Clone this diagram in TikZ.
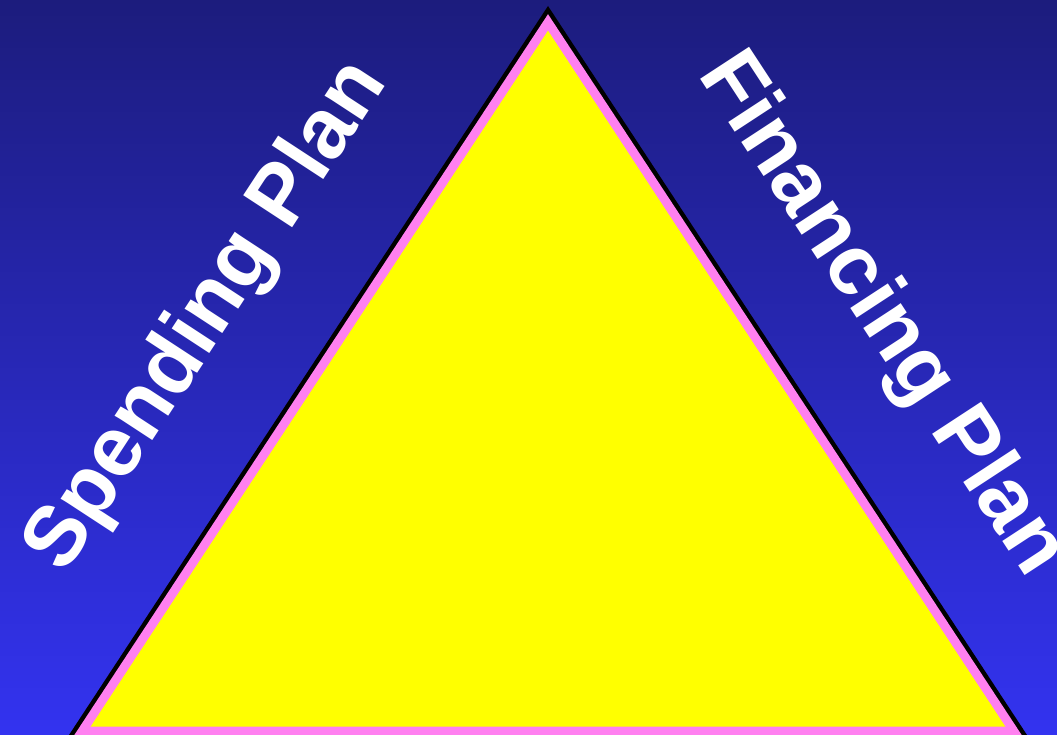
\documentclass[tikz,border=0pt]{standalone}
\usepackage{fontspec}
\setmainfont{Liberation Sans}
\definecolor{bgtop}{RGB}{28,28,125}
\definecolor{bgbot}{RGB}{51,51,240}
\definecolor{edgepink}{RGB}{255,128,240}
\definecolor{triyellow}{RGB}{255,255,0}
\tikzset{
  sidelabel/.style={font=\fontsize{85}{85}\selectfont\bfseries, text=white, anchor=base, inner sep=0pt}
}
\begin{document}
\begin{tikzpicture}[x=1pt,y=-1pt]
\useasboundingbox (0,0) rectangle (1057,735);
\shade[top color=bgtop, bottom color=bgbot] (0,0) rectangle (1057,735);
% triangle: black outline, pink band, yellow face
\fill[black] (548,6) -- (1030.3,740) -- (65.7,740) -- cycle;
\fill[edgepink] (548,14.2) -- (1022,735.5) -- (74,735.5) -- cycle;
\fill[triyellow] (548,30.7) -- (1005.3,726.5) -- (90.7,726.5) -- cycle;
\node[sidelabel, rotate=56.8] (spend) at (226,329) {Spending Plan};
\node[sidelabel, rotate=-56.8] (fin) at (862.6,327) {Financing Plan};
\end{tikzpicture}
\end{document}
